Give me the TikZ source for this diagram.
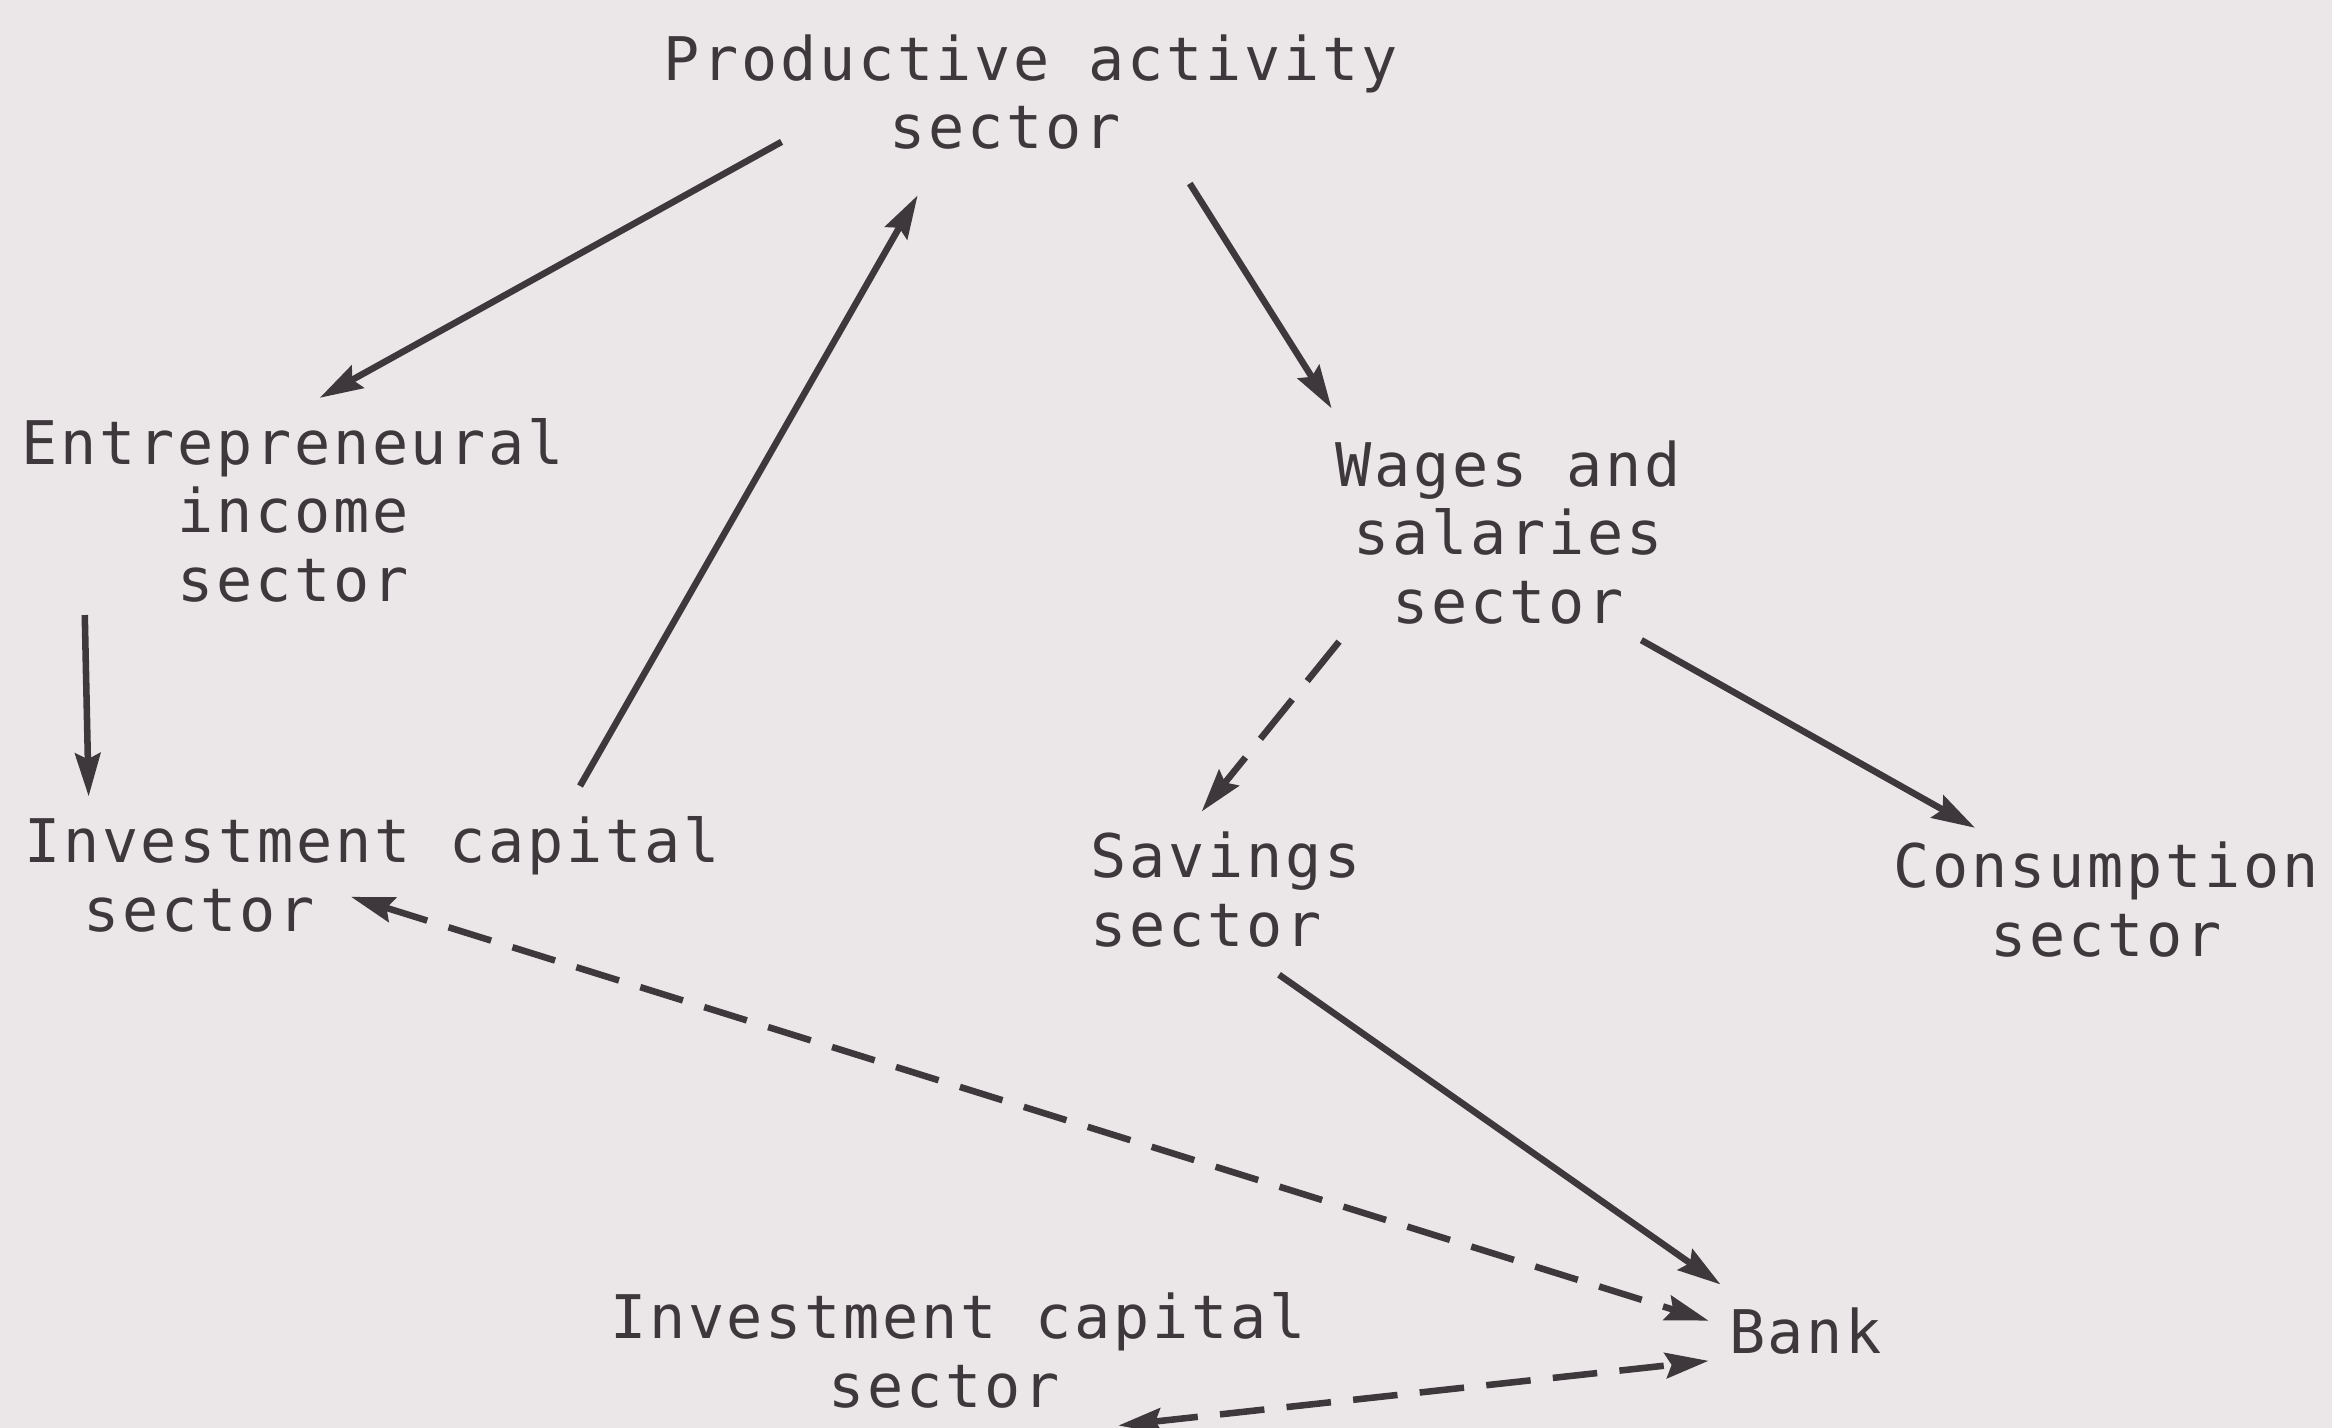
\documentclass[tikz,border=0pt]{standalone}
\usepackage{fontspec}
\usetikzlibrary{arrows.meta}
\newfontfamily\typefont{DejaVu Sans Mono}[LetterSpace=4.5]
\definecolor{paper}{RGB}{235,230,232}
\definecolor{ink}{RGB}{62,56,60}
\begin{document}
\begin{tikzpicture}[x=0.01cm, y=-0.01cm,
  sectorlabel/.style={font=\typefont\fontsize{11.5}{13.1}\selectfont, text=ink, inner sep=0pt, align=center},
  tip/.style={Stealth[length=0.29cm, width=0.17cm, inset=0.04cm]},
  flow/.style={draw=ink, line width=1.25pt, -{Stealth[length=0.29cm, width=0.17cm, inset=0.04cm]}},
  dashflow/.style={flow, dash pattern=on 0.3cm off 0.15cm},
  twoway/.style={dashflow, {Stealth[length=0.29cm, width=0.17cm, inset=0.04cm]}-{Stealth[length=0.29cm, width=0.17cm, inset=0.04cm]}}]
  % paper
  \fill[paper] (0,0) rectangle (1568,960);
  \useasboundingbox (0,0) rectangle (1568,960);

  % sectors
  \node[sectorlabel] (prod)  at (693,62)  {Productive activity\\\hspace*{-0.34cm}sector};
  \node[sectorlabel] (entre) at (197,343) {Entrepreneural\\income\\sector};
  \node[sectorlabel, align=left] (invA) at (250,588) {Investment capital\\\hspace*{0.40cm}sector};
  \node[sectorlabel] (wages) at (1014,358) {Wages and\\salaries\\sector};
  \node[sectorlabel, align=left] (sav) at (824,598) {Savings\\sector};
  \node[sectorlabel] (cons)  at (1416,605) {Consumption\\sector};
  \node[sectorlabel] (bank)  at (1214,895) {Bank};
  \node[sectorlabel] (invB)  at (644,908)  {Investment capital\\\hspace*{-0.18cm}sector};

  % flows
  \draw[flow] ([shift={(80,-6)}]prod.south west) -- ([shift={(18,-13)}]entre.north);
  \draw[flow] ([shift={(140,-20)}]invA.north) -- ([shift={(-76,30)}]prod.south);
  \draw[flow] ([shift={(107,22)}]prod.south) -- ([shift={(-2,-21)}]wages.north west);
  \draw[flow] ([shift={(-140,8)}]entre.south) -- ([shift={(44,-13)}]invA.north west);
  \draw[dashflow, dash pattern=on 0.34cm off 0.16cm] ([shift={(3,11)}]wages.south west) -- ([shift={(-16,-13)}]sav.north);
  \draw[flow] ([shift={(-27,10)}]wages.south east) -- ([shift={(-88,-9)}]cons.north);
  \draw[flow] ([shift={(36,18)}]sav.south) -- ([shift={(-5,-15)}]bank.north west);
  \draw[twoway] ([shift={(-14,15)}]invA.center) -- ([shift={(-13,-7)}]bank.west);
  \draw[twoway] ([shift={(108,11)}]invB.south) -- ([shift={(-13,20)}]bank.west);
\end{tikzpicture}
\end{document}
